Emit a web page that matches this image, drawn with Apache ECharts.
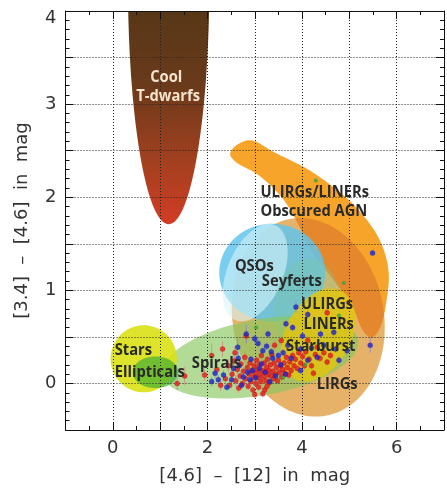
<!DOCTYPE html>
<html><head><meta charset="utf-8">
<script src="https://cdn.jsdelivr.net/npm/echarts@6/dist/echarts.min.js"></script>
<style>html,body{margin:0;padding:0;background:#fff}#c{width:447px;height:490px}</style>
</head><body><div id="c"></div>
<script>
// ---- axes ----
const xRange = [-1, 7];
const yRange = [-0.5, 4];
const xTickLabels = [0, 2, 4, 6];
const yTickLabels = [0, 1, 2, 3, 4];
const xTitle = '[4.6]  \u2013  [12]  in  mag';
const yTitle = '[3.4]  \u2013  [4.6]  in  mag';

// ---- regions (data units). ellipse: [cx, cy, ux, uy, vx, vy] (conjugate semi-axes) ----
const tdwarfEllipse = [1.18, 4.3, 0.86, 2.59];           // centre, rx, ry (lower arc only)
const lirgEllipse = [4.13, 0.71, 1.618, -0.107, 0, -1.061];
const qsoEllipse = [3.37, 1.19, 1.12, 0, 0, 0.525];
const paleEllipse = [3.01, 1.19, -0.42, -0.509, 0.542, -0.117];
const seyfertEllipse = [4.13, 0.80, 0.72, 0, 0, 0.54];
const yellowEllipse = [4.34, 0.52, 0.786, 0.172, 0, -0.47];
const spiralEllipse = [3.12, 0.28, 2.07, 0.186, 0.139, -0.401];
const starEllipse = [0.653, 0.265, 0.70, 0, 0, 0.36];
const ellipticalEllipse = [0.90, 0.12, 0.48, 0, 0, 0.17];
const obscuredOutline = [
  [2.48, 2.46], [2.62, 2.56], [2.95, 2.61], [3.42, 2.48], [4.12, 2.30], [4.81, 2.05],
  [5.30, 1.80], [5.66, 1.52], [5.83, 1.20], [5.78, 0.87], [5.68, 0.64], [5.55, 0.52],
  [5.42, 0.50], [5.25, 0.60], [5.05, 0.84], [4.62, 1.14], [4.20, 1.42], [3.95, 1.68],
  [3.60, 1.98], [3.10, 2.23], [2.65, 2.36]
];

// ---- labels [text, x, y, align] ----
const regionLabels = [
  ['Cool', 1.13, 3.29, 'center'],
  ['T-dwarfs', 1.17, 3.08, 'center'],
  ['ULIRGs/LINERs', 3.12, 2.05, 'left'],
  ['Obscured AGN', 3.12, 1.85, 'left'],
  ['QSOs', 2.58, 1.26, 'left'],
  ['Seyferts', 3.15, 1.10, 'left'],
  ['ULIRGs', 3.98, 0.85, 'left'],
  ['LINERs', 4.03, 0.63, 'left'],
  ['Starburst', 3.66, 0.40, 'left'],
  ['LIRGs', 4.31, -0.01, 'left'],
  ['Stars', 0.04, 0.35, 'left'],
  ['Ellipticals', 0.04, 0.12, 'left'],
  ['Spirals', 1.67, 0.21, 'left']
];

// ---- measured sources [x, y, yErr] ----
const redPoints = [
[1.36,0.00,0.07],[1.52,0.08,0.10],[1.94,0.09,0.06],[2.09,0.30,0.13],[2.20,0.15,0.08],[2.32,0.37,0.08],
[2.38,0.05,0.06],[2.44,0.19,0.07],[2.47,-0.02,0.05],[2.52,0.10,0.06],[2.56,0.24,0.06],[2.60,0.03,0.06],
[2.63,0.15,0.05],[2.66,-0.05,0.05],[2.69,0.08,0.05],[2.71,0.21,0.05],[2.74,0.00,0.05],[2.76,0.13,0.05],
[2.79,0.28,0.05],[2.81,0.05,0.05],[2.82,0.51,0.08],[2.84,0.17,0.04],[2.86,-0.03,0.04],[2.88,0.10,0.04],
[2.90,0.22,0.04],[2.92,0.02,0.04],[2.94,0.14,0.04],[2.96,-0.07,0.04],[2.97,0.07,0.04],[2.99,0.19,0.04],
[3.01,0.11,0.04],[3.02,0.00,0.04],[3.04,0.25,0.04],[3.05,0.15,0.04],[3.07,0.06,0.04],[3.08,-0.04,0.04],
[3.10,0.20,0.04],[3.11,0.10,0.04],[3.13,0.02,0.04],[3.14,0.30,0.04],[3.16,0.14,0.04],[3.17,-0.11,0.04],
[3.18,0.07,0.04],[3.20,0.22,0.04],[3.21,-0.07,0.04],[3.22,0.12,0.04],[3.24,0.03,0.04],[3.25,0.17,0.04],
[3.27,0.26,0.04],[3.28,0.09,0.04],[3.30,0.14,0.04],[3.31,0.01,0.04],[3.33,0.20,0.04],[3.35,0.08,0.04],
[3.36,0.31,0.04],[3.38,0.13,0.04],[3.40,0.05,0.04],[3.41,0.22,0.04],[3.42,0.41,0.05],[3.44,0.10,0.04],
[3.46,0.17,0.04],[3.48,0.03,0.04],[3.50,0.25,0.04],[3.52,0.12,0.04],[3.54,0.19,0.04],[3.56,0.46,0.05],
[3.57,0.07,0.04],[3.59,0.15,0.04],[3.62,0.22,0.04],[3.64,0.11,0.04],[3.67,0.28,0.04],[3.69,0.17,0.04],
[3.72,0.09,0.04],[3.74,0.23,0.04],[3.77,0.14,0.04],[3.80,0.30,0.04],[3.83,0.19,0.04],[3.86,0.26,0.04],
[3.90,0.16,0.04],[3.93,0.33,0.04],[3.97,0.22,0.04],[4.01,0.29,0.04],[4.05,0.19,0.04],[4.08,0.34,0.04],
[4.12,0.46,0.05],[4.15,0.26,0.04],[4.20,0.19,0.04],[4.24,0.11,0.04],[4.28,0.31,0.04],[4.32,0.39,0.04],
[4.38,0.27,0.04],[4.46,0.33,0.04],[4.53,0.23,0.04],[4.53,0.76,0.05],[4.60,0.30,0.04],[2.28,-0.02,0.06],
[2.58,0.33,0.07],[3.00,-0.12,0.04],[3.26,-0.03,0.04]
];
const bluePoints = [
[2.09,0.02,0.05],[2.16,0.11,0.06],[2.23,0.04,0.05],[2.34,0.09,0.05],[2.41,-0.04,0.04],[2.51,0.04,0.05],
[2.55,0.16,0.05],[2.64,0.39,0.09],[2.65,0.27,0.07],[2.67,0.19,0.05],[2.72,-0.02,0.04],[2.76,0.07,0.05],
[2.82,0.53,0.10],[2.85,0.12,0.04],[2.90,0.04,0.04],[2.95,0.14,0.04],[3.00,0.48,0.05],[3.02,0.06,0.04],
[3.07,0.43,0.05],[3.14,0.21,0.04],[3.17,0.35,0.04],[3.22,0.12,0.04],[3.25,0.40,0.04],[3.28,0.53,0.05],
[3.32,0.02,0.04],[3.35,0.34,0.04],[3.38,0.27,0.04],[3.44,0.08,0.04],[3.50,0.30,0.04],[3.55,0.20,0.04],
[3.60,0.33,0.04],[3.65,0.10,0.04],[3.66,0.64,0.04],[3.70,0.41,0.04],[3.77,0.27,0.04],[3.80,0.60,0.04],
[3.87,0.82,0.06],[3.97,0.37,0.04],[3.97,0.14,0.04],[4.01,0.51,0.04],[4.12,0.74,0.04],[4.12,0.25,0.04],
[4.20,0.38,0.04],[4.32,0.28,0.04],[4.39,0.53,0.04],[4.46,0.41,0.04],[4.67,0.55,0.04],[4.71,0.37,0.04],
[4.78,0.25,0.04],[4.95,0.35,0.04],[5.44,0.41,0.08],[5.49,1.40,0.03],[2.92,0.26,0.04],[3.10,0.16,0.04]
];
const greenPoints = [[4.29,2.18],[4.88,1.08],[3.03,0.60],[4.78,0.73],[3.60,0.06],[4.07,0.20]];

// ---- drawing helpers ----
const regions = [
  {kind: 'ellipse', shape: lirgEllipse, fill: 'rgba(226,165,80,0.85)'},
  {kind: 'outline', shape: obscuredOutline, fill: '#f6a52a', overlapWith: lirgEllipse, overlapFill: '#e5872c'},
  {kind: 'ellipse', shape: qsoEllipse, fill: 'rgba(95,196,236,0.84)'},
  {kind: 'ellipse', shape: paleEllipse, fill: 'rgba(215,245,248,0.6)'},
  {kind: 'ellipse', shape: seyfertEllipse, fill: 'rgba(120,205,150,0.3)'},
  {kind: 'ellipse', shape: spiralEllipse, fill: 'rgba(135,200,95,0.65)'},
  {kind: 'ellipse', shape: yellowEllipse, fill: 'rgba(224,197,15,0.84)'},
  {kind: 'tdwarf', shape: tdwarfEllipse},
  {kind: 'ellipse', shape: starEllipse, fill: 'rgba(218,226,25,0.92)'},
  {kind: 'ellipse', shape: ellipticalEllipse, fill: 'rgba(70,175,50,0.72)'}
];

function ellipsePoints(api, e, n) {
  const pts = [];
  for (let i = 0; i < n; i++) {
    const t = 2 * Math.PI * i / n, c = Math.cos(t), s = Math.sin(t);
    pts.push(api.coord([e[0] + e[2] * c + e[4] * s, e[1] + e[3] * c + e[5] * s]));
  }
  return pts;
}
// closed Catmull-Rom densification (pixel space)
function splineClosed(P, steps) {
  const out = [], n = P.length;
  for (let i = 0; i < n; i++) {
    const p0 = P[(i - 1 + n) % n], p1 = P[i], p2 = P[(i + 1) % n], p3 = P[(i + 2) % n];
    for (let k = 0; k < steps; k++) {
      const t = k / steps, t2 = t * t, t3 = t2 * t;
      const f = function (a, b, c, d) {
        return 0.5 * ((2 * b) + (-a + c) * t + (2 * a - 5 * b + 4 * c - d) * t2 + (-a + 3 * b - 3 * c + d) * t3);
      };
      out.push([f(p0[0], p1[0], p2[0], p3[0]), f(p0[1], p1[1], p2[1], p3[1])]);
    }
  }
  return out;
}
// Sutherland-Hodgman: clip subject polygon by a convex polygon
function clipConvex(subject, clip) {
  let area = 0;
  for (let i = 0; i < clip.length; i++) {
    const a = clip[i], b = clip[(i + 1) % clip.length];
    area += a[0] * b[1] - b[0] * a[1];
  }
  const sgn = area > 0 ? 1 : -1;
  let out = subject;
  for (let i = 0; i < clip.length && out.length; i++) {
    const A = clip[i], B = clip[(i + 1) % clip.length];
    const inside = function (p) { return sgn * ((B[0] - A[0]) * (p[1] - A[1]) - (B[1] - A[1]) * (p[0] - A[0])) >= 0; };
    const inter = function (p, q) {
      const x1 = p[0], y1 = p[1], x2 = q[0], y2 = q[1];
      const dx = B[0] - A[0], dy = B[1] - A[1];
      const den = (x2 - x1) * dy - (y2 - y1) * dx;
      const t = ((A[0] - x1) * dy - (A[1] - y1) * dx) / den;
      return [x1 + t * (x2 - x1), y1 + t * (y2 - y1)];
    };
    const input = out; out = [];
    for (let j = 0; j < input.length; j++) {
      const cur = input[j], prev = input[(j - 1 + input.length) % input.length];
      const ci = inside(cur), pi = inside(prev);
      if (ci) { if (!pi) out.push(inter(prev, cur)); out.push(cur); }
      else if (pi) out.push(inter(prev, cur));
    }
  }
  return out;
}

const labelFont = 'bold 16px "Open Sans", "Liberation Sans", sans-serif';
const axisFont = 'DejaVu Sans';
function isLabel(v, list) { return list.some(function (l) { return Math.abs(l - v) < 1e-6; }); }

const tickColor = '#111';
function makeX(pos, main) {
  return {
    type: 'value', position: pos, min: xRange[0], max: xRange[1], interval: 1, z: 10,
    axisLine: {show: true, onZero: false, lineStyle: {color: tickColor, width: 1}},
    axisTick: {show: true, inside: true, length: 8, lineStyle: {color: tickColor}},
    minorTick: {show: true, splitNumber: 2, length: 4, lineStyle: {color: tickColor}},
    axisLabel: {show: main, margin: 9, fontFamily: axisFont, fontSize: 18, color: '#333',
      formatter: function (v) { return isLabel(v, xTickLabels) ? String(Math.round(v)) : ''; }},
    splitLine: {show: main, lineStyle: {color: '#222', width: 1, type: [1, 2]}},
    name: main ? xTitle : '', nameLocation: 'middle', nameGap: 37,
    nameTextStyle: {fontFamily: axisFont, fontSize: 18, color: '#333'}
  };
}
function makeY(pos, main) {
  return {
    type: 'value', position: pos, min: yRange[0], max: yRange[1], interval: 0.5, z: 10,
    axisLine: {show: true, onZero: false, lineStyle: {color: tickColor, width: 1}},
    axisTick: {show: true, inside: true, length: 8, lineStyle: {color: tickColor}},
    minorTick: {show: true, splitNumber: 5, length: 4, lineStyle: {color: tickColor}},
    axisLabel: {show: main, margin: 9, fontFamily: axisFont, fontSize: 18, color: '#333',
      formatter: function (v) {
        if (!isLabel(v, yTickLabels)) return '';
        return Math.abs(v - yRange[1]) < 1e-6 ? '{top|' + Math.round(v) + '}' : String(Math.round(v));
      },
      rich: {top: {fontFamily: axisFont, fontSize: 18, color: '#333', padding: [14, 0, 0, 0]}}},
    splitLine: {show: main, lineStyle: {color: '#222', width: 1, type: [1, 2]}},
    name: main ? yTitle : '', nameLocation: 'middle', nameGap: 34, nameRotate: 90,
    nameTextStyle: {fontFamily: axisFont, fontSize: 18, color: '#333'}
  };
}

function errorSeries(data, color) {
  return {
    type: 'custom', silent: true, z: 11, data: data, encode: {x: 0, y: 1},
    renderItem: function (params, api) {
      const x = api.value(0), y = api.value(1), e = api.value(2);
      const lo = api.coord([x, y - e]), hi = api.coord([x, y + e]);
      return {type: 'line', shape: {x1: lo[0], y1: lo[1], x2: hi[0], y2: hi[1]},
        style: {stroke: color, lineWidth: 1}};
    }
  };
}

const chart = echarts.init(document.getElementById('c'));
chart.setOption({
  backgroundColor: '#fff',
  animation: false,
  grid: {left: 65.5, right: 0.3, top: 11, bottom: 59, show: false},
  xAxis: [makeX('bottom', true), makeX('top', false)],
  yAxis: [makeY('left', true), makeY('right', false)],
  series: [
    {
      type: 'custom', silent: true, z: 2,
      data: regions.map(function (r, i) { return [i, 0]; }),
      renderItem: function (params, api) {
        const r = regions[params.dataIndex];
        if (r.kind === 'ellipse') {
          return {type: 'polygon', shape: {points: ellipsePoints(api, r.shape, 96)}, style: {fill: r.fill}};
        }
        if (r.kind === 'outline') {
          const pts = splineClosed(r.shape.map(function (p) { return api.coord(p); }), 10);
          const over = clipConvex(pts, ellipsePoints(api, r.overlapWith, 96));
          return {type: 'group', children: [
            {type: 'polygon', shape: {points: pts}, style: {fill: r.fill}},
            {type: 'polygon', shape: {points: over}, style: {fill: r.overlapFill}}
          ]};
        }
        const cx = r.shape[0], cy = r.shape[1], rx = r.shape[2], ry = r.shape[3];
        const s0 = Math.acos((cy - yRange[1]) / ry);
        const pts = [];
        for (let i = 0; i <= 80; i++) {
          const s = -s0 + 2 * s0 * i / 80;
          pts.push(api.coord([cx + rx * Math.sin(s), cy - ry * Math.cos(s)]));
        }
        const fill = new echarts.graphic.LinearGradient(0, 0, 0, 1, [
          {offset: 0, color: '#573717'}, {offset: 0.35, color: '#6a3a1b'},
          {offset: 0.72, color: '#a5401f'}, {offset: 1, color: '#d23c25'}
        ]);
        return {type: 'polygon', shape: {points: pts}, style: {fill: fill}};
      }
    },
    errorSeries(redPoints, 'rgba(228,120,130,0.75)'),
    errorSeries(bluePoints, 'rgba(120,135,230,0.75)'),
    {type: 'scatter', silent: true, z: 12, data: redPoints, symbolSize: 5,
      itemStyle: {color: '#e01d1d', borderColor: '#b00', borderWidth: 0.3}},
    {type: 'scatter', silent: true, z: 13, data: bluePoints, symbolSize: 5,
      itemStyle: {color: '#2226cc', borderColor: '#10109a', borderWidth: 0.3}},
    {type: 'scatter', silent: true, z: 13, data: greenPoints, symbolSize: 4,
      itemStyle: {color: '#3aa43a'}},
    {
      type: 'custom', silent: true, z: 20,
      data: regionLabels.map(function (l) { return [l[1], l[2]]; }),
      renderItem: function (params, api) {
        const l = regionLabels[params.dataIndex];
        const p = api.coord([l[1], l[2]]);
        const light = params.dataIndex < 2;
        return {type: 'text', x: p[0], y: p[1], scaleX: 0.92, scaleY: 1,
          style: {text: l[0], font: labelFont, fill: light ? '#f4e4cc' : '#2a2a2a',
            align: l[3], verticalAlign: 'middle'}};
      }
    }
  ]
});
</script>
</body></html>
